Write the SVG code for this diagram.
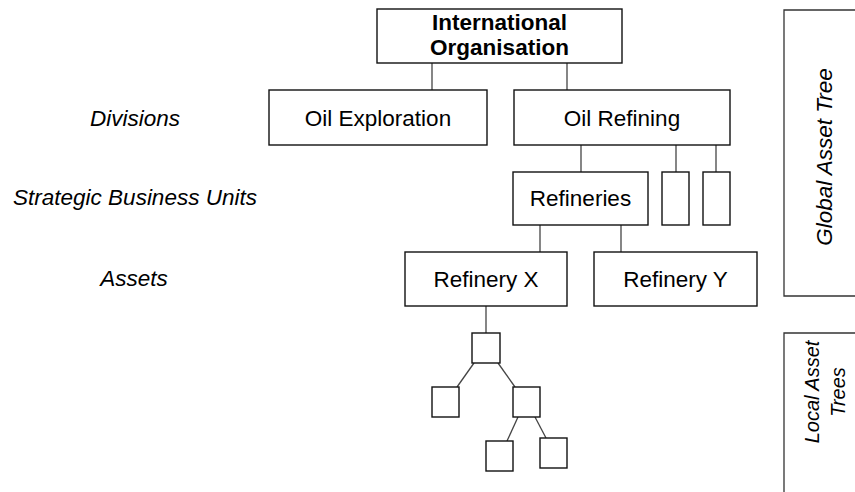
<svg xmlns="http://www.w3.org/2000/svg" width="855" height="492" viewBox="0 0 855 492">
  <style>
    .box { fill: #fff; stroke: #111; stroke-width: 1.4; }
    .link { fill: none; stroke: #444; stroke-width: 1.3; }
    .bracket { fill: none; stroke: #333; stroke-width: 1.3; }
    text { font-family: "Liberation Sans", Arial, sans-serif; font-size: 22.5px; fill: #000; text-anchor: middle; }
    .bold { font-weight: bold; }
    .lvl { font-style: italic; }
    .side { font-style: italic; }
    .side-sm { font-style: italic; font-size: 20px; }
  </style>
  <rect width="855" height="492" fill="#fff"/>

  <!-- level labels -->
  <g id="level-labels">
    <text class="lvl" x="135" y="126">Divisions</text>
    <text class="lvl" x="135" y="205">Strategic Business Units</text>
    <text class="lvl" x="134" y="286">Assets</text>
  </g>

  <!-- connectors -->
  <g id="connectors">
    <line class="link" x1="432" y1="63" x2="432" y2="90"/>
    <line class="link" x1="567" y1="63" x2="567" y2="90"/>
    <line class="link" x1="581" y1="145" x2="581" y2="172"/>
    <line class="link" x1="676" y1="145" x2="676" y2="172"/>
    <line class="link" x1="716" y1="145" x2="716" y2="172"/>
    <line class="link" x1="540" y1="225" x2="540" y2="252"/>
    <line class="link" x1="621" y1="225" x2="621" y2="252"/>
    <line class="link" x1="486" y1="306" x2="486" y2="333"/>
    <line class="link" x1="474" y1="363" x2="457" y2="387"/>
    <line class="link" x1="498" y1="363" x2="515" y2="387"/>
    <line class="link" x1="518" y1="417" x2="507" y2="441"/>
    <line class="link" x1="535" y1="417" x2="546" y2="438"/>
  </g>

  <g id="intl-org">
    <rect class="box" x="377" y="9" width="245" height="54"/>
    <text class="bold" x="499.5" y="30">International</text>
    <text class="bold" x="499.5" y="55">Organisation</text>
  </g>
  <g id="oil-exploration">
    <rect class="box" x="269" y="90" width="218" height="55"/>
    <text x="378" y="126">Oil Exploration</text>
  </g>
  <g id="oil-refining">
    <rect class="box" x="514" y="90" width="216" height="55"/>
    <text x="622" y="126">Oil Refining</text>
  </g>
  <g id="refineries">
    <rect class="box" x="513" y="172" width="135" height="53"/>
    <text x="580.5" y="206">Refineries</text>
  </g>
  <g id="sbu-2">
    <rect class="box" x="662" y="172" width="27" height="53"/>
  </g>
  <g id="sbu-3">
    <rect class="box" x="703" y="172" width="27" height="53"/>
  </g>
  <g id="refinery-x">
    <rect class="box" x="405" y="252" width="162" height="54"/>
    <text x="486" y="287">Refinery X</text>
  </g>
  <g id="refinery-y">
    <rect class="box" x="594" y="252" width="163" height="54"/>
    <text x="675.5" y="287">Refinery Y</text>
  </g>

  <!-- local asset tree under Refinery X -->
  <g id="local-root"><rect class="box" x="472" y="333" width="28" height="30"/></g>
  <g id="local-a"><rect class="box" x="432" y="387" width="27" height="30"/></g>
  <g id="local-b"><rect class="box" x="513" y="387" width="27" height="30"/></g>
  <g id="local-b1"><rect class="box" x="486" y="441" width="27" height="30"/></g>
  <g id="local-b2"><rect class="box" x="540" y="438" width="27" height="30"/></g>

  <!-- side brackets -->
  <g id="global-asset-tree">
    <path class="bracket" d="M855 10 H784 V296 H855"/>
    <text class="side" transform="translate(832 157) rotate(-90)">Global Asset Tree</text>
  </g>
  <g id="local-asset-trees">
    <path class="bracket" d="M855 333 H784 V492"/>
    <text class="side-sm" transform="translate(819 392) rotate(-90)">Local Asset</text>
    <text class="side-sm" transform="translate(845 392) rotate(-90)">Trees</text>
  </g>
</svg>
